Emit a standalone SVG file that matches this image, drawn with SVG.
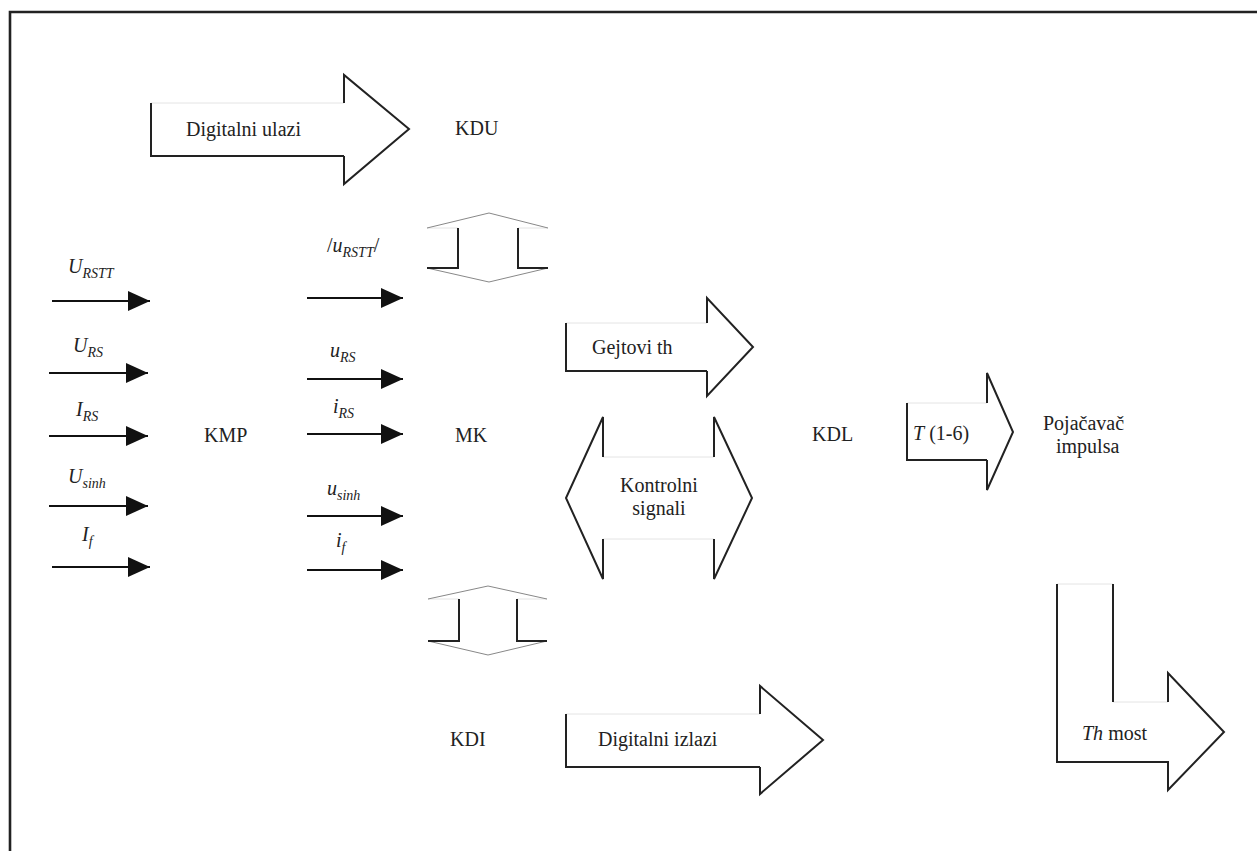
<svg xmlns="http://www.w3.org/2000/svg" width="1257" height="851" viewBox="0 0 1257 851">
<style>
text{font-family:"Liberation Serif","Tinos","DejaVu Serif",serif;font-size:20px;fill:#222}
.it{font-style:italic}
.sub{font-size:14px}
.dk{fill:none;stroke:#222;stroke-width:2;stroke-linejoin:miter}
.lt{fill:none;stroke:#e4e4e4;stroke-width:1}
.gr{fill:none;stroke:#888;stroke-width:1}
.bg{fill:#fff;stroke:none}
.conn{stroke:#111;stroke-width:2.2;fill:none}
</style>
<defs>
<marker id="ah" markerUnits="userSpaceOnUse" viewBox="0 0 22 20" refX="22" refY="10" markerWidth="22" markerHeight="20" orient="auto">
<path d="M0,0 L22,10 L0,20 Z" fill="#111"/>
</marker>
</defs>
<rect width="1257" height="851" fill="#fff"/>
<path d="M10,851 L10,12 L1257,12" fill="none" stroke="#222" stroke-width="2.6"/>

<g id="digitalni-ulazi">
<path class="bg" d="M151,103 L344,103 L344,75 L409,129 L344,184 L344,156 L151,156 Z"/>
<path class="lt" d="M151,103 L344,103"/>
<path class="dk" d="M151,103 L151,156 L344,156 M344,103 L344,75 L409,129 L344,184 L344,156"/>
<text x="186" y="136" font-family="Liberation Serif, serif">Digitalni ulazi</text>
</g>

<g id="kdu"><text x="455" y="135" font-family="Liberation Serif, serif">KDU</text></g>

<g id="bus-top">
<path class="lt" d="M427,228 L458,228 M518,228 L548,228"/>
<path class="gr" d="M427,228 L489,213 L548,228 M427,268 L489,282 L548,268"/>
<path class="dk" d="M458,228 L458,268 L427,268 M518,228 L518,268 L548,268"/>
</g>

<g id="bus-bottom">
<path class="lt" d="M428,599 L459,599 M517,599 L547,599"/>
<path class="gr" d="M428,599 L488,586 L547,599 M428,641 L488,655 L547,641"/>
<path class="dk" d="M459,599 L459,641 L428,641 M517,599 L517,641 L547,641"/>
</g>

<g id="kmp"><text x="204" y="442" font-family="Liberation Serif, serif">KMP</text></g>
<g id="mk"><text x="455" y="442" font-family="Liberation Serif, serif">MK</text></g>
<g id="kdl"><text x="812" y="441" font-family="Liberation Serif, serif">KDL</text></g>
<g id="kdi"><text x="450" y="746" font-family="Liberation Serif, serif">KDI</text></g>

<g id="gejtovi">
<path class="bg" d="M566,323 L707,323 L707,298 L753,347 L707,396 L707,371 L566,371 Z"/>
<path class="lt" d="M566,323 L707,323"/>
<path class="dk" d="M566,323 L566,371 L707,371 M707,323 L707,298 L753,347 L707,396 L707,371"/>
<text x="592" y="354" font-family="Liberation Serif, serif">Gejtovi th</text>
</g>

<g id="kontrolni">
<path class="lt" d="M603,457 L714,457 M603,539 L714,539"/>
<path class="dk" d="M603,457 L603,417 L566,498 L603,579 L603,539 M714,457 L714,417 L752,498 L714,579 L714,539"/>
<text x="659" y="492" text-anchor="middle" font-family="Liberation Serif, serif">Kontrolni</text>
<text x="659" y="515" text-anchor="middle" font-family="Liberation Serif, serif">signali</text>
</g>

<g id="t16">
<path class="bg" d="M907,403 L987,403 L987,373 L1013,432 L987,490 L987,460 L907,460 Z"/>
<path class="lt" d="M907,403 L987,403"/>
<path class="dk" d="M907,403 L907,460 L987,460 M987,403 L987,373 L1013,432 L987,490 L987,460"/>
<text x="913" y="440" font-family="Liberation Serif, serif"><tspan class="it">T</tspan> (1-6)</text>
</g>

<g id="pojacavac">
<text x="1043" y="430" font-family="Liberation Serif, serif">Pojačavač</text>
<text x="1056" y="453" font-family="Liberation Serif, serif">impulsa</text>
</g>

<g id="digitalni-izlazi">
<path class="bg" d="M566,714 L760,714 L760,686 L823,740 L760,794 L760,767 L566,767 Z"/>
<path class="lt" d="M566,714 L760,714"/>
<path class="dk" d="M566,714 L566,767 L760,767 M760,714 L760,686 L823,740 L760,794 L760,767"/>
<text x="598" y="746" font-family="Liberation Serif, serif">Digitalni izlazi</text>
</g>

<g id="th-most">
<path class="lt" d="M1057,584 L1113,584 M1113,702 L1168,702"/>
<path class="dk" d="M1057,584 L1057,762 L1168,762 L1168,790 L1224,732 L1168,673 L1168,702 M1113,584 L1113,702"/>
<text x="1082" y="740" font-family="Liberation Serif, serif"><tspan class="it">Th</tspan> most</text>
</g>

<g id="connectors">
<line class="conn" x1="52" y1="301" x2="150" y2="301" marker-end="url(#ah)"/>
<line class="conn" x1="49" y1="373" x2="148" y2="373" marker-end="url(#ah)"/>
<line class="conn" x1="49" y1="436" x2="148" y2="436" marker-end="url(#ah)"/>
<line class="conn" x1="49" y1="506" x2="148" y2="506" marker-end="url(#ah)"/>
<line class="conn" x1="52" y1="567" x2="150" y2="567" marker-end="url(#ah)"/>
<line class="conn" x1="307" y1="298" x2="403" y2="298" marker-end="url(#ah)"/>
<line class="conn" x1="307" y1="379" x2="403" y2="379" marker-end="url(#ah)"/>
<line class="conn" x1="307" y1="434" x2="403" y2="434" marker-end="url(#ah)"/>
<line class="conn" x1="307" y1="516" x2="403" y2="516" marker-end="url(#ah)"/>
<line class="conn" x1="307" y1="570" x2="403" y2="570" marker-end="url(#ah)"/>
</g>

<g id="labels" font-family="Liberation Serif, serif">
<text x="68" y="273" class="it" font-family="Liberation Serif, serif">U<tspan class="sub" dy="5">RSTT</tspan></text>
<text x="73" y="352" class="it" font-family="Liberation Serif, serif">U<tspan class="sub" dy="5">RS</tspan></text>
<text x="76" y="416" class="it" font-family="Liberation Serif, serif">I<tspan class="sub" dy="5">RS</tspan></text>
<text x="68" y="483" class="it" font-family="Liberation Serif, serif">U<tspan class="sub" dy="5">sinh</tspan></text>
<text x="82" y="541" class="it" font-family="Liberation Serif, serif">I<tspan class="sub" dy="5">f</tspan></text>
<text x="327" y="252" font-family="Liberation Serif, serif">/<tspan class="it">u</tspan><tspan class="it sub" dy="5">RSTT</tspan><tspan dy="-5">/</tspan></text>
<text x="330" y="357" class="it" font-family="Liberation Serif, serif">u<tspan class="sub" dy="5">RS</tspan></text>
<text x="333" y="413" class="it" font-family="Liberation Serif, serif">i<tspan class="sub" dy="5">RS</tspan></text>
<text x="327" y="495" class="it" font-family="Liberation Serif, serif">u<tspan class="sub" dy="5">sinh</tspan></text>
<text x="336" y="547" class="it" font-family="Liberation Serif, serif">i<tspan class="sub" dy="5">f</tspan></text>
</g>
</svg>
